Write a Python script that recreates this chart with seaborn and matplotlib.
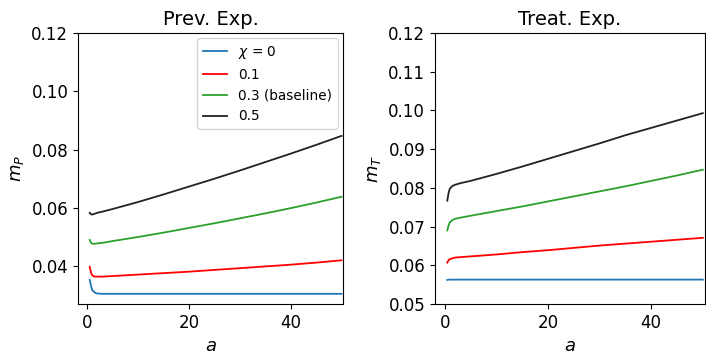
import matplotlib
matplotlib.use("Agg")
import matplotlib.pyplot as plt
import seaborn as sns
import pandas as pd

# ---- data ----
a_vals = [0.5, 0.75, 1, 1.5, 2, 3, 5, 10, 15, 20, 25, 30, 35, 40, 45, 50]

series_labels = [r"$\chi$ = 0", "0.1", "0.3 (baseline)", "0.5"]
series_colors = ["#1f77b4", "red", "#2ca02c", "#222222"]

prev_chi0 = [0.0353, 0.0332, 0.0318, 0.0309, 0.0306, 0.0305, 0.0305, 0.0305, 0.0305,
             0.0305, 0.0305, 0.0305, 0.0305, 0.0305, 0.0305, 0.0305]
prev_chi01 = [0.0398, 0.0378, 0.0368, 0.0364, 0.0364, 0.0364, 0.0366, 0.0371, 0.0376,
              0.0381, 0.0387, 0.0393, 0.0399, 0.0405, 0.0412, 0.0420]
prev_chi03 = [0.0490, 0.0480, 0.0477, 0.0477, 0.0478, 0.0480, 0.0486, 0.0500, 0.0515,
              0.0531, 0.0547, 0.0564, 0.0581, 0.0599, 0.0618, 0.0638]
prev_chi05 = [0.0583, 0.0578, 0.0577, 0.0580, 0.0583, 0.0587, 0.0596, 0.0620, 0.0646,
              0.0673, 0.0700, 0.0728, 0.0757, 0.0786, 0.0816, 0.0847]

treat_chi0 = [0.0562, 0.0563, 0.0563, 0.0563, 0.0563, 0.0563, 0.0563, 0.0563, 0.0563,
              0.0563, 0.0563, 0.0563, 0.0563, 0.0563, 0.0563, 0.0563]
treat_chi01 = [0.0607, 0.0613, 0.0616, 0.0618, 0.0620, 0.0621, 0.0623, 0.0628, 0.0634,
               0.0639, 0.0645, 0.0651, 0.0656, 0.0661, 0.0666, 0.0671]
treat_chi03 = [0.0690, 0.0703, 0.0711, 0.0717, 0.0720, 0.0723, 0.0728, 0.0740, 0.0752,
               0.0765, 0.0778, 0.0791, 0.0804, 0.0818, 0.0832, 0.0847]
treat_chi05 = [0.0767, 0.0787, 0.0798, 0.0805, 0.0808, 0.0812, 0.0818, 0.0836, 0.0855,
               0.0875, 0.0895, 0.0915, 0.0936, 0.0955, 0.0974, 0.0993]

prev_series = [prev_chi0, prev_chi01, prev_chi03, prev_chi05]
treat_series = [treat_chi0, treat_chi01, treat_chi03, treat_chi05]

prev_yticks = [0.04, 0.06, 0.08, 0.10, 0.12]
treat_yticks = [0.05, 0.06, 0.07, 0.08, 0.09, 0.10, 0.11, 0.12]
x_ticks = [0, 20, 40]


def long_df(series):
    rows = []
    for lab, vals in zip(series_labels, series):
        for a, v in zip(a_vals, vals):
            rows.append({"a": a, "m": v, "chi": lab})
    return pd.DataFrame(rows)


fig = plt.figure(figsize=(7.06, 3.54), dpi=100)
ax1 = fig.add_axes([0.1105, 0.1412, 0.3754, 0.7655])
ax2 = fig.add_axes([0.616, 0.1412, 0.3824, 0.7655])

palette = dict(zip(series_labels, series_colors))

sns.lineplot(data=long_df(prev_series), x="a", y="m", hue="chi", palette=palette,
             hue_order=series_labels, ax=ax1, linewidth=1.3, legend=True)
sns.lineplot(data=long_df(treat_series), x="a", y="m", hue="chi", palette=palette,
             hue_order=series_labels, ax=ax2, linewidth=1.3, legend=False)

ax1.set_xlim(-1.8, 50.3)
ax1.set_ylim(0.0270, 0.12)
ax1.set_yticks(prev_yticks)
ax1.set_yticklabels([f"{t:.2f}" for t in prev_yticks])
ax2.set_xlim(-1.9, 50.4)
ax2.set_ylim(0.05, 0.12)
ax2.set_yticks(treat_yticks)
ax2.set_yticklabels([f"{t:.2f}" for t in treat_yticks])

for ax, title, ylab in [(ax1, "Prev. Exp.", r"$m_P$"), (ax2, "Treat. Exp.", r"$m_T$")]:
    ax.set_xticks(x_ticks)
    ax.set_title(title, fontsize=14)
    ax.set_xlabel(r"$a$", fontsize=13)
    ax.set_ylabel(ylab, fontsize=13)
    ax.tick_params(labelsize=12)

leg = ax1.legend(loc="upper right", fontsize=9.8, title=None, borderaxespad=0.4,
                 handlelength=1.8)

fig.savefig("out.png", dpi=100)
